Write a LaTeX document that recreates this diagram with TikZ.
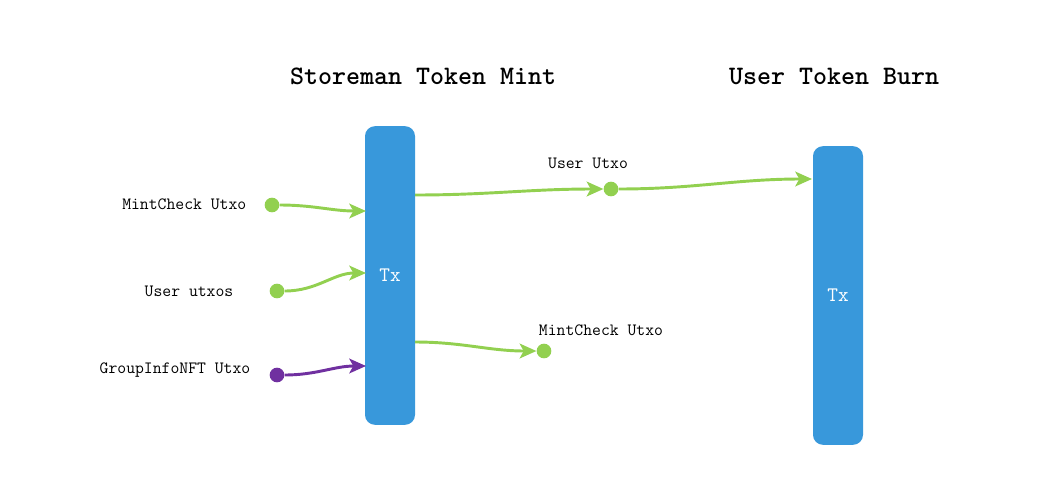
\documentclass[tikz,border=0pt]{standalone}
\usepackage{fontspec}
\usetikzlibrary{arrows.meta}
\definecolor{txblue}{RGB}{56,152,219}
\definecolor{utxogreen}{RGB}{146,208,80}
\definecolor{nftpurple}{RGB}{112,48,160}
\tikzset{
  txbox/.style={fill=txblue,rounded corners=7.5pt,minimum width=37.5pt,minimum height=224pt,
    text=white,font=\ttfamily\fontsize{15.5}{18}\selectfont},
  utxo/.style={circle,inner sep=0pt,minimum size=11pt,fill=#1},
  flow/.style={line width=2.2pt,draw=#1,-{Stealth[length=12.5pt,width=11pt,inset=3pt]}},
  utxolabel/.style={font=\ttfamily\fontsize{12.9}{15}\selectfont},
  heading/.style={font=\ttfamily\bfseries\fontsize{20}{24}\selectfont}
}
\begin{document}
\begin{tikzpicture}[x=0.75pt,y=-0.75pt]
                \useasboundingbox (0,0) rectangle (1061,476);
                \node[heading] (minttitle) at (423,76) {Storeman Token Mint};
                \node[heading] (burntitle) at (834,76) {User Token Burn};
                \node[txbox] (mint) at (390,275.5) {Tx};
                \node[txbox] (burn) at (838,295.5) {Tx};
                % inputs of the mint tx
                \node[utxo=utxogreen] (mcin) at (272,205) {};
                \node[utxo=utxogreen] (userin) at (277,291) {};
                \node[utxo=nftpurple] (nftin) at (277,375) {};
                \node[utxolabel,anchor=east] (mcinlabel) at (251,204) {MintCheck Utxo};
                \node[utxolabel] (userinlabel) at (189,291) {User utxos};
                \node[utxolabel,anchor=east] (nftinlabel) at (255,370) {GroupInfoNFT Utxo};
                \coordinate (mintin1) at (366,211);
                \coordinate (mintin2) at (366,273);
                \coordinate (mintin3) at (366,366);
                \draw[flow=utxogreen] (mcin) to[out=0,in=180] (mintin1);
                \draw[flow=utxogreen] (userin) to[out=0,in=180] (mintin2);
                \draw[flow=nftpurple] (nftin) to[out=0,in=180] (mintin3);
                % outputs of the mint tx
                \node[utxo=utxogreen] (userout) at (611,189) {};
                \node[utxo=utxogreen] (mcout) at (544,351) {};
                \node[utxolabel] (useroutlabel) at (588,163) {User Utxo};
                \node[utxolabel] (mcoutlabel) at (601,330) {MintCheck Utxo};
                \coordinate (mintout1) at (415,195);
                \coordinate (mintout2) at (415,342);
                \coordinate (burnin) at (812,179);
                \draw[flow=utxogreen] (mintout1) to[out=0,in=180] (userout);
                \draw[flow=utxogreen] (mintout2) to[out=0,in=180] (mcout);
                \draw[flow=utxogreen] (userout) to[out=0,in=180] (burnin);
            \end{tikzpicture}
\end{document}
